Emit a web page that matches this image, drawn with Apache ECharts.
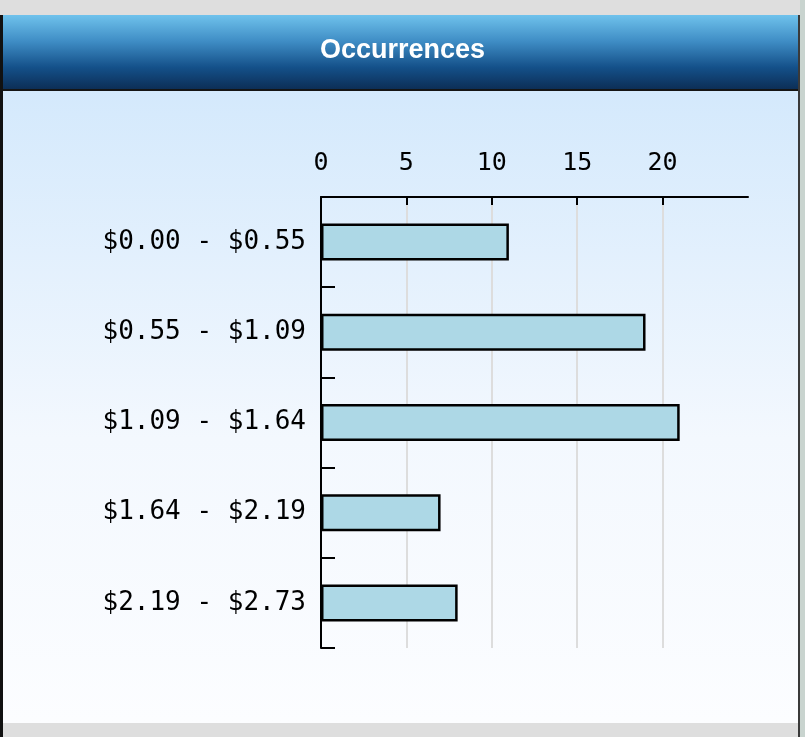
<!DOCTYPE html>
<html>
<head>
<meta charset="utf-8">
<script src="https://cdn.jsdelivr.net/npm/echarts@6/dist/echarts.min.js"></script>
<style>
  html, body { margin: 0; padding: 0; }
  #plot { width: 805px; height: 737px; }
</style>
</head>
<body>
<div id="plot"></div>
<script>
// price buckets and how often each happened
const categories = ['$0.00 - $0.55', '$0.55 - $1.09', '$1.09 - $1.64', '$1.64 - $2.19', '$2.19 - $2.73'];
const occurrences = [11, 19, 21, 7, 8];
const tickValues = [0, 5, 10, 15, 20];

const monoFont = 'DejaVu Sans Mono';

var myChart = echarts.init(document.getElementById('plot'));

var option = {
    animation: false,
    backgroundColor: '#dedede',
    graphic: [
        // header bar
        {
            type: 'rect', z: -10,
            shape: {x: 0, y: 15, width: 799, height: 75},
            style: {
                fill: new echarts.graphic.LinearGradient(0, 0, 0, 1, [
                    {offset: 0, color: '#6fc2ec'},
                    {offset: 0.35, color: '#3f8dc5'},
                    {offset: 0.7, color: '#145089'},
                    {offset: 1, color: '#0c2d54'}
                ])
            }
        },
        {type: 'rect', z: -10, shape: {x: 0, y: 89, width: 799, height: 2}, style: {fill: '#151515'}},
        // panel body
        {
            type: 'rect', z: -10,
            shape: {x: 3, y: 91, width: 795, height: 632},
            style: {
                fill: new echarts.graphic.LinearGradient(0, 0, 0, 1, [
                    {offset: 0, color: '#d4e9fc'},
                    {offset: 0.55, color: '#f3f8fe'},
                    {offset: 1, color: '#fcfdff'}
                ])
            }
        },
        {type: 'rect', z: -10, shape: {x: 0, y: 15, width: 3, height: 722}, style: {fill: '#111'}},
        {type: 'rect', z: -10, shape: {x: 798, y: 15, width: 2, height: 722}, style: {fill: '#3a3a3a'}},
        {type: 'rect', z: -10, shape: {x: 800, y: 0, width: 5, height: 737}, style: {fill: '#c9d4cf'}}
    ],
    title: {
        text: 'Occurrences',
        left: 'center',
        top: 32,
        textStyle: {
            color: '#ffffff',
            fontFamily: 'Liberation Sans',
            fontWeight: 'bold',
            fontSize: 27
        }
    },
    grid: {
        left: 321,
        right: 57,
        top: 197,
        bottom: 89,
        containLabel: false
    },
    xAxis: {
        type: 'value',
        position: 'top',
        min: 0,
        max: 25,
        interval: 5,
        axisLine: {show: true, lineStyle: {color: '#000', width: 2}},
        axisTick: {show: true, inside: true, length: 8, customValues: tickValues, lineStyle: {color: '#000', width: 2}},
        axisLabel: {
            customValues: tickValues,
            margin: 21,
            color: '#000',
            fontFamily: monoFont,
            fontSize: 25
        },
        splitLine: {
            show: true,
            // last colour hides the line at the right edge
            lineStyle: {color: ['#dddddd', '#dddddd', '#dddddd', '#dddddd', '#dddddd', 'rgba(0,0,0,0)'], width: 2}
        }
    },
    yAxis: {
        type: 'category',
        inverse: true,
        data: categories,
        axisLine: {show: true, lineStyle: {color: '#000', width: 2}},
        axisTick: {show: true, inside: true, length: 14, lineStyle: {color: '#000', width: 2}},
        axisLabel: {
            margin: 15,
            color: '#000',
            fontFamily: monoFont,
            fontSize: 26
        }
    },
    series: [{
        name: 'Occurrences',
        type: 'bar',
        data: occurrences,
        barWidth: 37,
        itemStyle: {
            color: '#add8e6',
            borderColor: '#000',
            borderWidth: 2.5
        }
    }]
};

myChart.setOption(option);
</script>
</body>
</html>
